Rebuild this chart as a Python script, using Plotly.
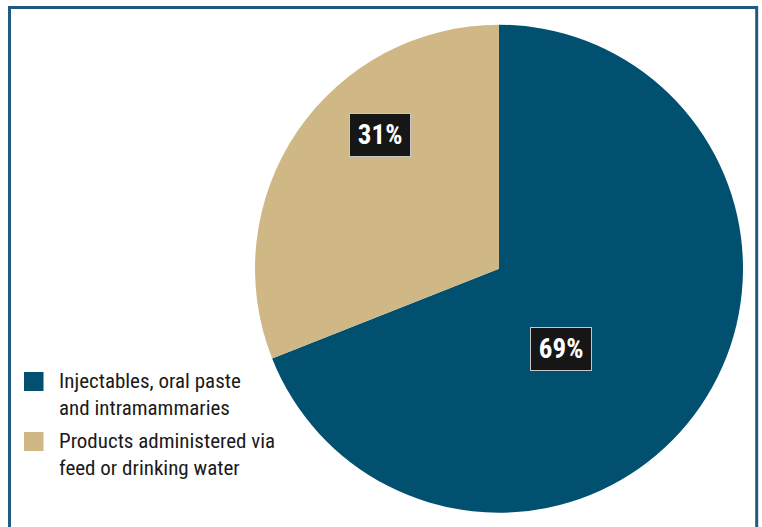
import plotly.graph_objects as go

categories = ["Injectables, oral paste<br>and intramammaries",
              "Products administered via<br>feed or drinking water"]
values = [69, 31]
colors = ["#02506f", "#cfb786"]
label_texts = ["69%", "31%"]

W, H = 762, 527
FONT = "Roboto Condensed, Liberation Sans Narrow, Roboto"

fig = go.Figure(go.Pie(
    labels=categories,
    values=values,
    sort=False,
    direction="clockwise",
    rotation=0,
    marker=dict(colors=colors, line=dict(width=0)),
    textinfo="none",
    hoverinfo="label+percent",
    showlegend=False,
    domain=dict(x=[255 / W, 743 / W], y=[14.3 / H, 502.3 / H]),
))

# percent labels in black boxes
label_pos = [(560.5 / W, 1 - 348.5 / H), (380 / W, 1 - 135.5 / H)]
for txt, (px, py) in zip(label_texts, label_pos):
    fig.add_annotation(
        x=px, y=py, xref="paper", yref="paper", showarrow=False,
        xanchor="center", yanchor="middle",
        text="\u200a<b>" + txt + "</b>\u200a",
        font=dict(family=FONT, size=27, color="white"),
        bgcolor="#161616", bordercolor="#c8c8c8", borderwidth=1, borderpad=5,
    )

# manual legend
leg_y = [381.5, 441.5]
for cat, col, yy in zip(categories, colors, leg_y):
    fig.add_shape(type="rect", xref="paper", yref="paper",
                  x0=24 / W, x1=43.5 / W, y0=1 - (yy + 9.5) / H, y1=1 - (yy - 9.5) / H,
                  fillcolor=col, line=dict(width=0))
    fig.add_annotation(x=57 / W, y=1 - (yy - 15) / H, xref="paper", yref="paper",
                       xanchor="left", yanchor="top", align="left", showarrow=False,
                       text=cat, font=dict(family=FONT, size=21, color="#1a1a1a"))

# frame
fig.add_shape(type="rect", xref="paper", yref="paper",
              x0=9.5 / W, x1=756.7 / W, y0=-0.05, y1=1 - 7.5 / H,
              line=dict(color="#1f5a80", width=3), fillcolor="rgba(0,0,0,0)")

fig.update_layout(
    width=W, height=H,
    margin=dict(l=0, r=0, t=0, b=0),
    paper_bgcolor="white", plot_bgcolor="white",
    font=dict(family=FONT),
)

fig.write_html("out.html", config={"displayModeBar": False},
               post_script="document.body.style.margin='0';")
